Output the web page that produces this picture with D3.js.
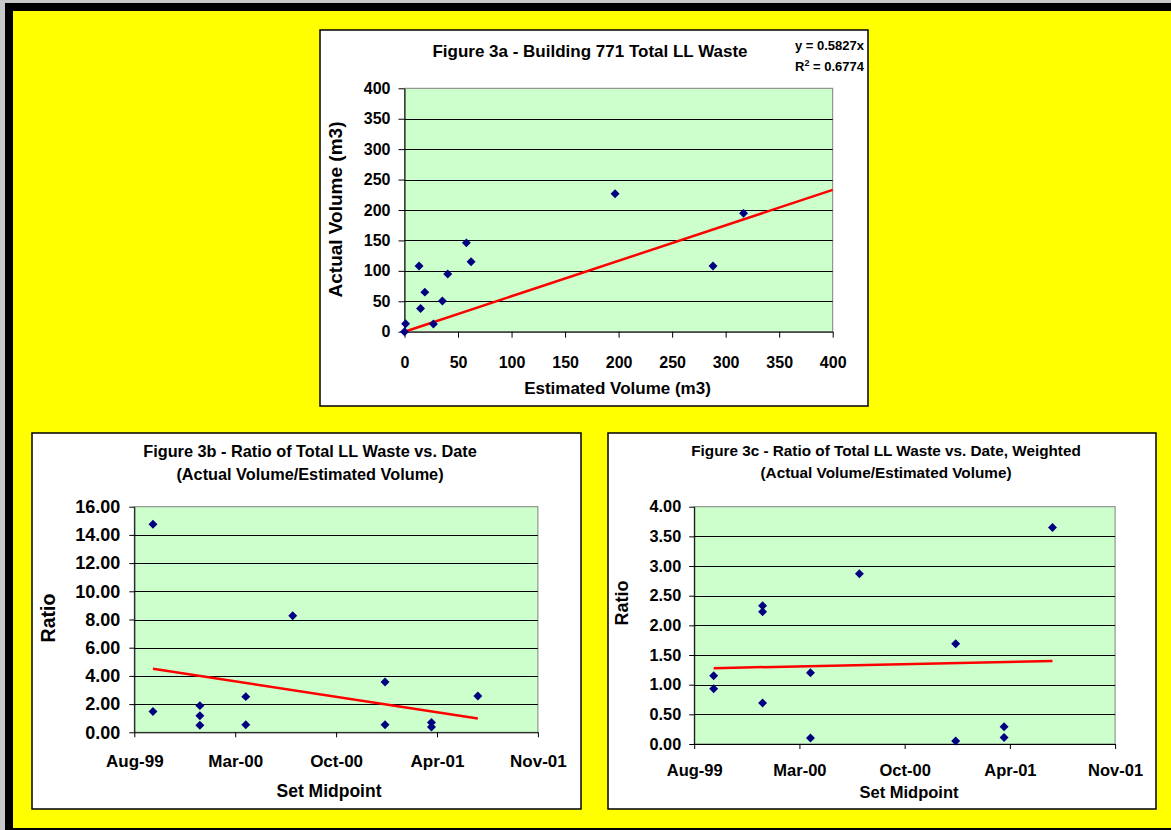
<!DOCTYPE html>
<html><head><meta charset="utf-8">
<script src="https://cdn.jsdelivr.net/npm/d3@7"></script>
<style>
body{margin:0;background:#fff;}
text{font-family:"Liberation Sans",Arial,sans-serif;font-weight:bold;fill:#000;}
</style>
</head><body>
<svg id="c" width="1171" height="830"></svg>
<script>
// ---------- DATA ----------
// Figure 3a
const estVolA = [0, 1, 13.6, 15, 19, 27, 35.4, 40.4, 57.8, 62.2, 196.7, 288.2, 316.7];
const actVolA = [0, 13, 108, 38, 65, 12.6, 50.4, 94.8, 146, 115, 226.8, 108, 194.5];
const slopeA = 0.5827;
const r2A = 0.6774;
const ticksA = [0, 50, 100, 150, 200, 250, 300, 350, 400];

// Figure 3b / 3c (set midpoints)
const setDatesB = ["1999-10-04","1999-10-04","2000-01-05","2000-01-05","2000-01-05","2000-04-05","2000-04-05",
                   "2000-07-07","2001-01-06","2001-01-06","2001-04-08","2001-04-08","2001-07-09"];
const ratioB = [14.75, 1.47, 1.89, 1.18, 0.50, 2.53, 0.54, 8.27, 3.57, 0.54, 0.69, 0.38, 2.58];
const setDatesC = setDatesB;
const ratioC = [1.15, 0.93, 2.33, 2.23, 0.69, 1.20, 0.10, 2.87, 1.69, 0.05, 0.29, 0.11, 3.65];
const ticksB = [0, 2, 4, 6, 8, 10, 12, 14, 16];
const ticksC = [0, 0.5, 1, 1.5, 2, 2.5, 3, 3.5, 4];
const dateTicks = ["1999-08-28","2000-03-15","2000-10-01","2001-04-19","2001-11-05"];

// ---------- DRAW ----------
const W = 1171, H = 830;
const svg = d3.select("#c");
const pd = s => new Date(s + "T00:00:00Z");

svg.append("rect").attr("width", W).attr("height", H).attr("fill", "#c8c8c8");
svg.append("rect").attr("x", 5).attr("y", 3).attr("width", W - 5).attr("height", H - 3).attr("fill", "#000");
svg.append("rect").attr("x", 13).attr("y", 11).attr("width", W - 13).attr("height", 817).attr("fill", "#ffff00");

function box(x0, y0, x1, y1) {
  svg.append("rect").attr("x", x0).attr("y", y0).attr("width", x1 - x0).attr("height", y1 - y0)
    .attr("fill", "#fff").attr("stroke", "#000").attr("stroke-width", 1.5);
}
box(320, 30, 868, 406);
box(32, 433, 581, 809);
box(608, 433, 1156, 809);

const diamond = d3.symbol().type(d3.symbolSquare).size(40);

function plot(cfg) {
  const x = cfg.x, y = cfg.y;
  const [l, r] = x.range(), [b, t] = y.range();
  const g = svg.append("g");
  g.append("rect").attr("x", l).attr("y", t).attr("width", r - l).attr("height", b - t)
    .attr("fill", "#ccffcc").attr("stroke", "#808080").attr("stroke-width", 1);
  g.selectAll("line.grid").data(cfg.yTicks.slice(1, -1)).join("line").attr("class", "grid")
    .attr("x1", l).attr("x2", r).attr("y1", d => Math.round(y(d)) + 0.5).attr("y2", d => Math.round(y(d)) + 0.5)
    .attr("stroke", "#000").attr("stroke-width", 1);

  const ya = g.append("g").attr("transform", `translate(${l},0)`)
    .call(d3.axisLeft(y).tickValues(cfg.yTicks).tickFormat(cfg.yFmt).tickSize(cfg.tick).tickSizeOuter(0).tickPadding(cfg.yPad));
  ya.selectAll("text").style("font-size", cfg.yFs + "px").attr("font-family", null);
  const xa = g.append("g").attr("transform", `translate(0,${b})`)
    .call(d3.axisBottom(x).tickValues(cfg.xTicks).tickFormat(cfg.xFmt).tickSize(cfg.tick).tickSizeOuter(0).tickPadding(cfg.xPad));
  xa.selectAll("text").style("font-size", cfg.xFs + "px").attr("font-family", null);
  [ya, xa].forEach(a => { a.select(".domain").attr("stroke", "#000"); a.selectAll(".tick line").attr("stroke", "#000"); a.attr("font-family", null); });

  // trend line
  g.append("path").attr("d", d3.line().x(d => x(d[0])).y(d => y(d[1]))(cfg.trend))
    .attr("stroke", "#ff0000").attr("stroke-width", 2.5).attr("fill", "none");
  // points
  g.selectAll("path.pt").data(cfg.pts).join("path").attr("class", "pt")
    .attr("d", diamond).attr("fill", "#000080")
    .attr("transform", d => `translate(${x(d[0])},${y(d[1])}) rotate(45)`);
}

function text(x, y, s, fs, anchor, rot) {
  const t = svg.append("text").attr("x", x).attr("y", y).attr("text-anchor", anchor || "middle")
    .style("font-size", fs + "px").text(s);
  if (rot) t.attr("transform", `rotate(-90,${x},${y})`);
  return t;
}

// regression helper
function linreg(xs, ys) {
  const n = xs.length, mx = d3.mean(xs), my = d3.mean(ys);
  let sxy = 0, sxx = 0;
  for (let i = 0; i < n; i++) { sxy += (xs[i] - mx) * (ys[i] - my); sxx += (xs[i] - mx) ** 2; }
  const m = sxy / sxx; return v => my + m * (v - mx);
}

// ---- Figure 3a ----
const xA = d3.scaleLinear().domain([0, 400]).range([404.5, 832.7]);
const yA = d3.scaleLinear().domain([0, 400]).range([331.7, 88.3]);
plot({
  x: xA, y: yA, xTicks: ticksA, yTicks: ticksA, xFmt: d3.format("d"), yFmt: d3.format("d"),
  tick: 6, yPad: 8, xPad: 19, yFs: 16, xFs: 16,
  pts: estVolA.map((v, i) => [v, actVolA[i]]),
  trend: [[0, 0], [400, 400 * slopeA]]
});
text(590, 57, "Figure 3a - Building 771 Total LL Waste", 17);
text(864, 50, "y = " + slopeA + "x", 13, "end");
const rt = text(864, 71, "", 13, "end");
rt.append("tspan").text("R");
rt.append("tspan").attr("dy", -5).style("font-size", "9px").text("2");
rt.append("tspan").attr("dy", 5).text(" = " + r2A);
text(617.5, 394, "Estimated Volume (m3)", 17);
text(342, 209.5, "Actual Volume (m3)", 19, "middle", true);

// ---- Figure 3b ----
const dom = [pd(dateTicks[0]), pd(dateTicks[dateTicks.length - 1])];
const fmtDate = d3.utcFormat("%b-%y");
const xB = d3.scaleUtc().domain(dom).range([134.3, 537.9]);
const yB = d3.scaleLinear().domain([0, 16]).range([732.3, 506.7]);
const dB = setDatesB.map(pd);
const fB = linreg(dB.map(d => +d), ratioB);
const dBmin = d3.min(dB), dBmax = d3.max(dB);
plot({
  x: xB, y: yB, xTicks: dateTicks.map(pd), yTicks: ticksB, xFmt: fmtDate, yFmt: d3.format(".2f"),
  tick: 5, yPad: 9, xPad: 18, yFs: 18, xFs: 17,
  pts: dB.map((d, i) => [d, ratioB[i]]),
  trend: [[dBmin, fB(+dBmin)], [dBmax, fB(+dBmax)]]
});
text(310, 456.5, "Figure 3b - Ratio of Total LL Waste vs. Date", 16.3);
text(310, 480, "(Actual Volume/Estimated Volume)", 16.3);
text(329, 797, "Set Midpoint", 17.5);
text(55, 618, "Ratio", 19.5, "middle", true);

// ---- Figure 3c ----
const xC = d3.scaleUtc().domain(dom).range([694.2, 1115.1]);
const yC = d3.scaleLinear().domain([0, 4]).range([744, 506.7]);
const dC = setDatesC.map(pd);
const fC = linreg(dC.map(d => +d), ratioC);
const dCmin = d3.min(dC), dCmax = d3.max(dC);
plot({
  x: xC, y: yC, xTicks: dateTicks.map(pd), yTicks: ticksC, xFmt: fmtDate, yFmt: d3.format(".2f"),
  tick: 5, yPad: 8, xPad: 15, yFs: 16.3, xFs: 16.5,
  pts: dC.map((d, i) => [d, ratioC[i]]),
  trend: [[dCmin, fC(+dCmin)], [dCmax, fC(+dCmax)]]
});
text(886, 456, "Figure 3c - Ratio of Total LL Waste vs. Date, Weighted", 15.3);
text(886, 478, "(Actual Volume/Estimated Volume)", 15.3);
text(909, 798, "Set Midpoint", 16.5);
text(628, 603, "Ratio", 18, "middle", true);
</script>
</body></html>
